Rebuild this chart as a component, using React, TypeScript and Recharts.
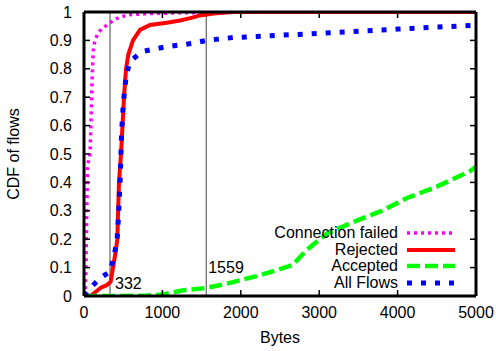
import React from 'react';
import { Legend, Line, LineChart, ReferenceLine, XAxis, YAxis } from 'recharts';

// CDF curves (bytes -> fraction of flows)
const failedBytes = [0, 15, 25, 35, 45, 60, 77, 90, 105, 120, 140, 170, 220, 300, 400, 550, 800, 1200, 2000, 5000];
const failedCdf = [0, 0.02, 0.1, 0.3, 0.45, 0.48, 0.5, 0.62, 0.78, 0.87, 0.9, 0.92, 0.94, 0.955, 0.975, 0.99, 0.994, 0.997, 1, 1];

const rejectedBytes = [0, 80, 150, 220, 290, 340, 370, 400, 425, 446, 472, 495, 510, 536, 565, 625, 714, 842, 1055, 1225, 1380, 1480, 1650, 1900, 5000];
const rejectedCdf = [0, 0, 0.015, 0.03, 0.038, 0.05, 0.1, 0.15, 0.2, 0.4, 0.5, 0.62, 0.7, 0.8, 0.85, 0.9, 0.937, 0.954, 0.962, 0.97, 0.98, 0.988, 0.995, 1, 1];

const acceptedBytes = [0, 500, 800, 1000, 1265, 1545, 1800, 2000, 2200, 2450, 2666, 2840, 3100, 3430, 3800, 4120, 4500, 4925, 5000];
const acceptedCdf = [0, 0, 0.002, 0.005, 0.02, 0.028, 0.042, 0.056, 0.07, 0.09, 0.11, 0.162, 0.22, 0.26, 0.3, 0.345, 0.385, 0.44, 0.455];

const allBytes = [0, 40, 100, 204, 290, 332, 370, 420, 438, 460, 480, 502, 536, 570, 608, 735, 900, 1055, 1395, 1565, 1900, 2500, 3000, 3500, 4000, 4500, 5000];
const allCdf = [0, 0.015, 0.033, 0.063, 0.078, 0.085, 0.127, 0.19, 0.27, 0.4, 0.58, 0.68, 0.77, 0.81, 0.83, 0.86, 0.87, 0.878, 0.89, 0.9, 0.91, 0.918, 0.925, 0.932, 0.94, 0.947, 0.953];

const xTicks = [0, 1000, 2000, 3000, 4000, 5000];
const yTicks = [0, 0.1, 0.2, 0.3, 0.4, 0.5, 0.6, 0.7, 0.8, 0.9, 1];
const markers = [332, 1559];

const toPoints = (bytes: number[], cdf: number[]) => bytes.map((b, i) => ({ bytes: b, cdf: cdf[i] }));

const series = [
  { name: 'Connection failed', data: toPoints(failedBytes, failedCdf), color: '#ff00ff', width: 3.5, dash: '3 4' },
  { name: 'Rejected', data: toPoints(rejectedBytes, rejectedCdf), color: '#ff0000', width: 4, dash: undefined },
  { name: 'Accepted', data: toPoints(acceptedBytes, acceptedCdf), color: '#00ff00', width: 4.5, dash: '13 5' },
  { name: 'All Flows', data: toPoints(allBytes, allCdf), color: '#0000ff', width: 5, dash: '5 9' },
];

const FONT = '"Liberation Sans", Arial, Helvetica, sans-serif';

const LegendBox = () => (
  <div style={{ fontSize: 16, color: '#000', fontFamily: FONT, lineHeight: '16.5px' }}>
    {series.map(s => (
      <div key={s.name} style={{ display: 'flex', alignItems: 'center', height: 16.5 }}>
        <span style={{ width: 148, textAlign: 'right', whiteSpace: 'nowrap' }}>{s.name}</span>
        <svg width={57} height={10}>
          <line x1={9} x2={57} y1={5} y2={5} stroke={s.color} strokeWidth={s.width} strokeDasharray={s.dash} />
        </svg>
      </div>
    ))}
  </div>
);

const yLabel = (props: any) => {
  const vb = props.viewBox;
  const cx = vb.x + 13;
  const cy = vb.y + vb.height / 2;
  return (
    <text x={cx} y={cy} transform={`rotate(-90 ${cx} ${cy})`} textAnchor="middle" dominantBaseline="central" fontSize={16} fill="#000">
      CDF of flows
    </text>
  );
};

const xLabel = (props: any) => {
  const vb = props.viewBox;
  return (
    <text x={vb.x + vb.width / 2} y={vb.y + 47} textAnchor="middle" fontSize={16} fill="#000">
      Bytes
    </text>
  );
};

const markerLabel = (value: number, dx: number, up: number) => (props: any) => {
  const vb = props.viewBox;
  return (
    <text x={vb.x + dx} y={vb.y + vb.height - up} dominantBaseline="central" fontSize={16} fill="#000">
      {value}
    </text>
  );
};

const noTick = () => <g />;

export default function App() {
  const axisLine = { stroke: '#000', strokeWidth: 3 };
  const tickLine = { stroke: '#000', strokeWidth: 1.5 };
  return (
    <div style={{ position: 'absolute', left: 0, top: 0, fontFamily: FONT, background: '#fff' }}>
      <LineChart width={496} height={351} margin={{ top: 11, right: 19, bottom: 0, left: 0 }}>
        <XAxis
          xAxisId="b"
          type="number"
          dataKey="bytes"
          domain={[0, 5000]}
          ticks={xTicks}
          allowDataOverflow
          height={55}
          tickSize={-6}
          tickMargin={17}
          axisLine={axisLine}
          tickLine={tickLine}
          tick={{ fill: '#000', fontSize: 16 }}
          label={xLabel}
        />
        <XAxis
          xAxisId="t"
          orientation="top"
          type="number"
          dataKey="bytes"
          domain={[0, 5000]}
          ticks={xTicks}
          allowDataOverflow
          height={1}
          tickSize={-6}
          axisLine={axisLine}
          tickLine={tickLine}
          tick={noTick}
        />
        <YAxis
          yAxisId="l"
          type="number"
          domain={[0, 1]}
          ticks={yTicks}
          allowDataOverflow
          width={84}
          tickSize={-6}
          tickMargin={18}
          axisLine={axisLine}
          tickLine={tickLine}
          tick={{ fill: '#000', fontSize: 16 }}
          label={yLabel}
        />
        <YAxis
          yAxisId="r"
          orientation="right"
          type="number"
          domain={[0, 1]}
          ticks={yTicks}
          allowDataOverflow
          width={1}
          tickSize={-6}
          axisLine={axisLine}
          tickLine={tickLine}
          tick={noTick}
        />
        {markers.map((m, i) => (
          <ReferenceLine
            key={m}
            x={m}
            xAxisId="b"
            yAxisId="l"
            stroke="#444"
            strokeWidth={1}
            label={markerLabel(m, i === 0 ? 5 : 2, i === 0 ? 13 : 29)}
          />
        ))}
        {series.map(s => (
          <Line
            key={s.name}
            xAxisId="b"
            yAxisId="l"
            data={s.data}
            dataKey="cdf"
            name={s.name}
            type="linear"
            stroke={s.color}
            strokeWidth={s.width}
            strokeDasharray={s.dash}
            dot={false}
            activeDot={false}
            isAnimationActive={false}
          />
        ))}
        <Legend
          layout="horizontal"
          verticalAlign="middle"
          align="center"
          content={LegendBox}
          wrapperStyle={{ left: 250, top: 225, width: 210, height: 70 }}
        />
      </LineChart>
    </div>
  );
}
